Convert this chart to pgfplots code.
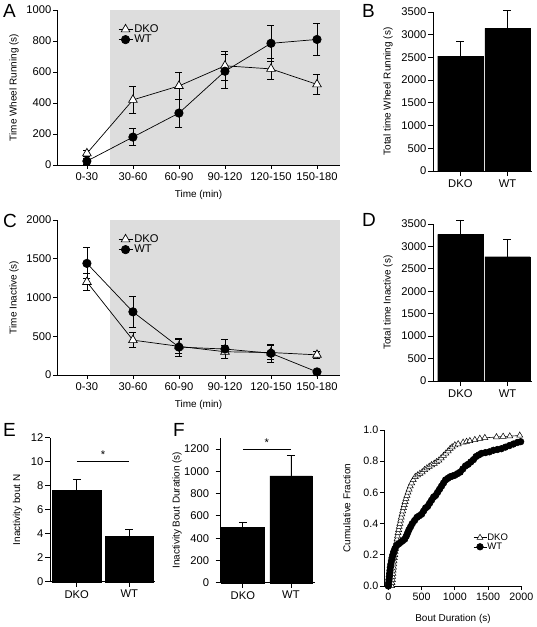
\documentclass[border=0pt]{standalone}
\usepackage{pgfplots}
\pgfplotsset{compat=1.18}
\usepackage{fontspec}
\setmainfont{Liberation Sans}
\definecolor{shade}{RGB}{221,221,221}
\newcommand{\fs}{\fontsize{11.2bp}{13bp}\selectfont}
\newcommand{\fsg}{\fontsize{10.7bp}{12bp}\selectfont}
\newcommand{\fsleg}{\fontsize{9.5bp}{10bp}\selectfont}
\newcommand{\fsl}{\fontsize{19bp}{20bp}\selectfont}
\pgfplotsset{
  ylab/.style={every axis y label/.style={at={([xshift=-#1]axis description cs:0,0.5)}, rotate=90, anchor=center}},
  xlab/.style={every axis x label/.style={at={([yshift=-#1]axis description cs:0.5,0)}, anchor=center}},
  panel/.style={
    scale only axis, anchor=south west, clip=false, set layers,
    axis x line*=bottom, axis y line*=left,
    tick align=outside, major tick length=4bp,
    every tick/.style={black, line width=0.8bp},
    axis line style={black, line width=0.8bp},
    tick label style={font=\fs},
    label style={font=\fs},
    /pgf/number format/assume math mode=true,
    /pgf/number format/1000 sep={},
    scaled y ticks=false, scaled x ticks=false,
    yticklabel style={inner sep=1.5bp},
    minor tick num=0,
  },
  dko/.style={black, line width=0.7bp, mark=triangle*, mark size=5bp, mark options={fill=white, solid, line width=0.7bp}},
  wt/.style={black, line width=0.7bp, mark=*, mark size=4.2bp, mark options={fill=black, solid}},
  eb/.style={/pgfplots/error bars/y dir=both, /pgfplots/error bars/y explicit,
    /pgfplots/error bars/error bar style={line width=0.8bp, black, solid},
    /pgfplots/error bars/error mark options={rotate=90, line width=0.8bp, mark size=3.5bp, black, solid}},
  ebp/.style={/pgfplots/error bars/y dir=plus, /pgfplots/error bars/y explicit,
    /pgfplots/error bars/error bar style={line width=0.8bp, black},
    /pgfplots/error bars/error mark options={rotate=90, line width=0.8bp, mark size=4bp, black}},
  legimg/.style={legend image code/.code={\draw[mark repeat=2, mark phase=2] plot coordinates {(0bp,0bp) (7bp,0bp) (14bp,0bp)};}},
}
\begin{document}
\begin{tikzpicture}

% ---------- A ----------
\begin{axis}[panel, at={(57bp,462bp)}, width=283bp, height=155bp,
  xmin=-0.65, xmax=5.5, ymin=0, ymax=1000,
  xtick={0,...,5}, xticklabels={0-30,30-60,60-90,90-120,120-150,150-180},
  ytick={0,200,...,1000},
  ylabel={Time Wheel Running (s)}, ylab=43bp,
  xlabel={Time (min)}, xlab=30bp,
  legimg,
  legend style={at={(0.2155,0.916)}, anchor=north west, draw=none, fill=none, font=\fs, inner sep=0pt, row sep=-2bp, nodes={inner sep=1.5bp}},
  legend cell align=left]
\addplot[fill=shade, draw=none, forget plot, on layer=axis background] coordinates {(0.5,0) (0.5,1000) (5.5,1000) (5.5,0)} -- cycle;
\addplot[dko, eb] coordinates {(0,75) +- (0,20) (1,420) +- (0,88) (2,510) +- (0,88) (3,640) +- (0,92) (4,620) +- (0,70) (5,520) +- (0,65)};
\addlegendentry{DKO}
\addplot[wt, eb] coordinates {(0,25) +- (0,20) (1,180) +- (0,55) (2,335) +- (0,90) (3,605) +- (0,110) (4,785) +- (0,115) (5,810) +- (0,105)};
\addlegendentry{WT}
\end{axis}

% ---------- B ----------
\begin{axis}[panel, at={(433bp,456bp)}, width=99bp, height=159bp,
  xmin=-0.58, xmax=1.52, ymin=0, ymax=3500,
  xtick={0,1}, xticklabels={DKO,WT}, ytick={0,500,...,3500},
  ylabel={Total time Wheel Running (s)}, ylab=45bp, major tick length=5bp]
\addplot[ybar, bar width=0.96, fill=black, draw=black, ebp] coordinates {(0,2530) +- (0,330) (1,3140) +- (0,400)};
\end{axis}

% ---------- C ----------
\begin{axis}[panel, at={(57bp,252bp)}, width=283bp, height=155bp,
  xmin=-0.65, xmax=5.5, ymin=0, ymax=2000,
  xtick={0,...,5}, xticklabels={0-30,30-60,60-90,90-120,120-150,150-180},
  ytick={0,500,...,2000},
  ylabel={Time Inactive (s)}, ylab=43bp,
  xlabel={Time (min)}, xlab=30bp,
  legimg,
  legend style={at={(0.2155,0.916)}, anchor=north west, draw=none, fill=none, font=\fs, inner sep=0pt, row sep=-2bp, nodes={inner sep=1.5bp}},
  legend cell align=left]
\addplot[fill=shade, draw=none, forget plot, on layer=axis background] coordinates {(0.5,0) (0.5,2000) (5.5,2000) (5.5,0)} -- cycle;
\addplot[dko, eb] coordinates {(0,1200) +- (0,105) (1,450) +- (0,100) (2,370) +- (0,90) (3,300) +- (0,80) (4,290) +- (0,90) (5,260) +- (0,45)};
\addlegendentry{DKO}
\addplot[wt, eb] coordinates {(0,1440) +- (0,200) (1,815) +- (0,205) (2,360) +- (0,115) (3,335) +- (0,118) (4,280) +- (0,115) (5,40) +- (0,25)};
\addlegendentry{WT}
\end{axis}

% ---------- D ----------
\begin{axis}[panel, at={(433bp,246bp)}, width=99bp, height=157bp,
  xmin=-0.58, xmax=1.52, ymin=0, ymax=3500,
  xtick={0,1}, xticklabels={DKO,WT}, ytick={0,500,...,3500},
  ylabel={Total time Inactive (s)}, ylab=45bp, major tick length=5bp]
\addplot[ybar, bar width=0.96, fill=black, draw=black, ebp] coordinates {(0,3270) +- (0,320) (1,2770) +- (0,390)};
\end{axis}

% ---------- E ----------
\begin{axis}[panel, at={(50bp,45.3bp)}, width=105bp, height=144bp,
  xmin=-0.51, xmax=1.49, ymin=0, ymax=12,
  xtick={0,1}, xticklabels={DKO,WT}, ytick={0,2,...,12},
  ylabel={Inactivity bout N}, ylab=32.5bp, major tick length=5bp]
\addplot[ybar, bar width=0.92, fill=black, draw=black, ebp] coordinates {(0,7.6) +- (0,0.9) (1,3.8) +- (0,0.55)};
\draw[line width=0.8bp] (axis cs:0,10) -- (axis cs:1,10);
\node[font=\fs, anchor=base] at (axis cs:0.5,10.25) {*};
\end{axis}

% ---------- F ----------
\begin{axis}[panel, at={(220.7bp,44.3bp)}, width=94.3bp, height=144.8bp,
  xmin=-0.46, xmax=1.5, ymin=0, ymax=1300,
  xtick={0,1}, xticklabels={DKO,WT}, ytick={0,200,...,1200},
  yticklabel style={xshift=-5bp},
  ylabel={Inactivity Bout Duration (s)}, ylab=43.7bp, major tick length=5bp]
\addplot[ybar, bar width=0.88, fill=black, draw=black, ebp] coordinates {(0,500) +- (0,45) (1,960) +- (0,180)};
\draw[line width=0.8bp] (axis cs:0,1200) -- (axis cs:1,1200);
\node[font=\fs, anchor=base] at (axis cs:0.5,1225) {*};
\end{axis}

% ---------- G ----------
\begin{axis}[panel, at={(384bp,41bp)}, width=138bp, height=156bp,
  xmin=-65, xmax=2010, ymin=0, ymax=1,
  xtick={0,500,...,2000}, ytick={0,0.2,...,1.0},
  tick label style={font=\fsg}, label style={font=\fsg},
  yticklabel style={/pgf/number format/.cd, fixed, fixed zerofill, precision=1},
  ylabel={Cumulative Fraction}, ylab=37.3bp,
  xlabel={Bout Duration (s)}, xlab=33bp,
  legend image code/.code={\draw[mark repeat=2, mark phase=2] plot coordinates {(0bp,0bp) (6.5bp,0bp) (13bp,0bp)};},
  legend style={at={(0.645,0.34)}, anchor=north west, draw=none, fill=none, font=\fsleg, inner sep=0pt, row sep=0bp, nodes={inner sep=0.5bp}},
  legend cell align=left]
\addplot[black, line width=0.6bp, mark=triangle*, mark size=3.5bp, mark options={fill=white, line width=0.5bp}] coordinates {
(50,0.00) (55,0.02) (60,0.04) (64,0.06) (68,0.08) (72,0.10) (76,0.12) (80,0.14) (85,0.16) (90,0.18)
(96,0.20) (102,0.22) (108,0.24) (115,0.26) (122,0.28) (130,0.30) (138,0.32) (146,0.34) (155,0.36) (164,0.38)
(174,0.40) (184,0.42) (194,0.44) (205,0.46) (216,0.48) (228,0.50) (240,0.52) (252,0.54) (265,0.56) (280,0.58)
(296,0.60) (312,0.62) (330,0.64) (350,0.66) (375,0.68) (405,0.70) (440,0.71) (475,0.72) (510,0.73) (545,0.745)
(580,0.755) (615,0.765) (650,0.775) (690,0.785) (725,0.795) (760,0.805) (795,0.82) (830,0.835) (865,0.85) (900,0.865)
(930,0.88) (960,0.89) (1000,0.903) (1050,0.91) (1125,0.92) (1176,0.925) (1226,0.93) (1301,0.937) (1376,0.945) (1451,0.95)
(1626,0.955) (1726,0.958) (1826,0.96) (1976,0.965)};
\addlegendentry{DKO}
\addplot[black, line width=0.6bp, mark=*, mark size=3.3bp, mark options={fill=black}] coordinates {
(0,0.00) (5,0.02) (10,0.04) (15,0.06) (20,0.08) (25,0.10) (30,0.12) (38,0.14) (46,0.16) (56,0.18)
(68,0.20) (82,0.22) (100,0.24) (125,0.26) (155,0.27) (185,0.28) (215,0.29) (245,0.30) (270,0.32) (290,0.34)
(310,0.36) (335,0.38) (360,0.40) (395,0.42) (430,0.44) (465,0.45) (500,0.46) (530,0.48) (560,0.50) (590,0.51)
(620,0.53) (650,0.55) (680,0.57) (710,0.58) (740,0.60) (770,0.62) (800,0.64) (830,0.66) (860,0.68) (895,0.69)
(930,0.70) (965,0.705) (1000,0.71) (1040,0.72) (1080,0.73) (1120,0.75) (1160,0.77) (1200,0.78) (1240,0.795) (1280,0.81)
(1320,0.83) (1360,0.84) (1400,0.85) (1460,0.855) (1520,0.86) (1580,0.87) (1640,0.875) (1700,0.88) (1760,0.89) (1820,0.90)
(1880,0.91) (1940,0.92) (1990,0.925)};
\addlegendentry{WT}
\end{axis}

% ---------- panel letters ----------
\node[font=\fsl, anchor=base west, inner sep=0pt] at (3bp,609bp) {A};
\node[font=\fsl, anchor=base west, inner sep=0pt] at (362bp,609bp) {B};
\node[font=\fsl, anchor=base west, inner sep=0pt] at (3bp,399bp) {C};
\node[font=\fsl, anchor=base west, inner sep=0pt] at (362bp,400bp) {D};
\node[font=\fsl, anchor=base west, inner sep=0pt] at (3bp,190bp) {E};
\node[font=\fsl, anchor=base west, inner sep=0pt] at (173bp,190bp) {F};
\pgfresetboundingbox
\useasboundingbox (0,0) rectangle (537bp,627bp);
\end{tikzpicture}
\end{document}
